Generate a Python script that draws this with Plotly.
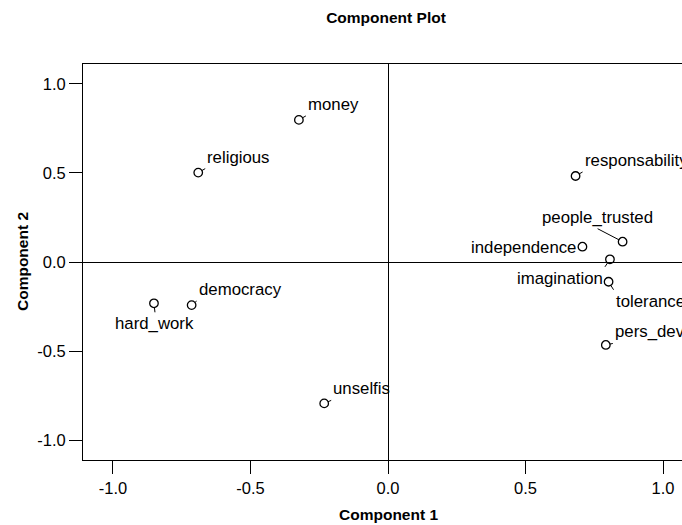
import plotly.graph_objects as go

# ---- data (component loadings) ----
variables = ["money", "religious", "democracy", "hard_work", "unselfis",
             "responsability", "people_trusted", "independence",
             "imagination", "tolerance", "pers_dev"]
component1 = [-0.324, -0.690, -0.714, -0.851, -0.232,
              0.682, 0.853, 0.707, 0.807, 0.802, 0.792]
component2 = [0.798, 0.502, -0.242, -0.232, -0.794,
              0.483, 0.114, 0.086, 0.015, -0.111, -0.466]
tick_values = [-1.0, -0.5, 0.0, 0.5, 1.0]
tick_labels = ["-1.0", "-0.5", "0.0", "0.5", "1.0"]

# ---- label placement (style only: pixel offsets of label tails) ----
placement = {
    "money":          (7, -4, "left", "bottom"),
    "religious":      (7, -4, "left", "bottom"),
    "democracy":      (5, -4, "left", "bottom"),
    "hard_work":      (1, 9, "center", "top"),
    "unselfis":       (7, -3, "left", "bottom"),
    "responsability": (7, -4, "left", "bottom"),
    "people_trusted": (-25, -13, "center", "bottom"),
    "independence":   (-4.6, 0.5, "right", "middle"),
    "imagination":    (-5, 7.5, "right", "top"),
    "tolerance":      (5, 8, "left", "top"),
    "pers_dev":       (7, -1.5, "left", "bottom"),
}

FONT = "Liberation Sans, Arial, Helvetica, sans-serif"
LABEL_SIZE = 16.8
TICK_SIZE = 16.5
TITLE_SIZE = 15.5

fig = go.Figure()
fig.add_trace(go.Scatter(
    x=component1, y=component2, mode="markers",
    marker=dict(symbol="circle-open", size=8.5, color="black",
                line=dict(width=1.3, color="black")),
    text=variables, hoverinfo="text", showlegend=False,
))

annotations = []
for name, cx, cy in zip(variables, component1, component2):
    ax, ay, xa, ya = placement[name]
    annotations.append(dict(
        x=cx, y=cy, xref="x", yref="y", text=name,
        showarrow=True, arrowhead=0, arrowwidth=1, arrowcolor="black",
        ax=ax, ay=ay, standoff=4.2, xanchor=xa, yanchor=ya,
        font=dict(family=FONT, size=LABEL_SIZE, color="black"),
    ))

# axis titles
annotations.append(dict(
    x=0, y=-0.1364, xref="x", yref="paper", text="<b>Component 1</b>",
    showarrow=False, xanchor="center", yanchor="middle",
    font=dict(family=FONT, size=TITLE_SIZE, color="black"),
))
annotations.append(dict(
    x=-0.1018, y=0.0, xref="paper", yref="y", text="<b>Component 2</b>",
    showarrow=False, xanchor="center", yanchor="middle", textangle=-90,
    font=dict(family=FONT, size=TITLE_SIZE, color="black"),
))

fig.update_layout(
    width=682, height=525,
    margin=dict(l=83, r=0, t=64, b=65),
    paper_bgcolor="white", plot_bgcolor="white",
    title=dict(text="<b>Component Plot</b>", x=386 / 682, xref="container",
               xanchor="center", y=1 - 17.5 / 525, yanchor="middle",
               font=dict(family=FONT, size=TITLE_SIZE, color="black")),
    annotations=annotations,
    font=dict(family=FONT, color="black"),
)

fig.update_xaxes(
    range=[-1.109, 1.069], tickvals=tick_values, ticktext=tick_labels,
    ticks="outside", ticklen=13, tickwidth=1, tickcolor="black",
    showline=True, linecolor="black", linewidth=1, mirror=True,
    showgrid=False, zeroline=True, zerolinecolor="black", zerolinewidth=1,
    tickfont=dict(family=FONT, size=TICK_SIZE, color="black"),
)
fig.update_yaxes(
    range=[-1.112, 1.112], tickvals=tick_values, ticktext=tick_labels,
    ticks="outside", ticklen=13, tickwidth=1, tickcolor="black",
    showline=True, linecolor="black", linewidth=1, mirror=False,
    showgrid=False, zeroline=True, zerolinecolor="black", zerolinewidth=1,
    tickfont=dict(family=FONT, size=TICK_SIZE, color="black"),
)

fig.write_html(
    "out.html",
    config={"displayModeBar": False},
    post_script="document.body.style.margin='0';document.body.style.overflow='hidden';",
)
